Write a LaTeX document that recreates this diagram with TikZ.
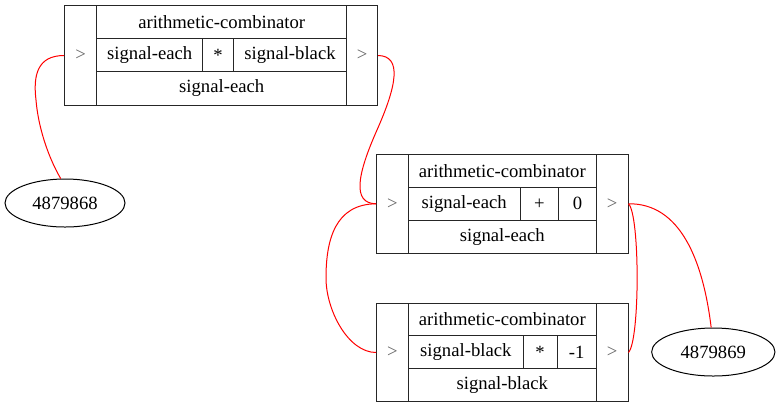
\documentclass[tikz,border=0pt]{standalone}
\usepackage{fontspec}
\setmainfont{Liberation Serif}
\usetikzlibrary{fit,shapes.geometric}
\tikzset{
  cell/.style={draw=black!85,line width=0.75pt,rectangle,inner sep=0pt,label=center:{#1}},
  port/.style={draw=black!85,line width=0.75pt,rectangle,inner sep=0pt,
    label={[text=black!60]center:>}},
  num/.style={draw,ellipse,line width=0.75pt,inner sep=0pt},
  wire/.style={red,line width=0.75pt}
}

\begin{document}
\begin{tikzpicture}[x=0.75pt,y=-0.75pt,font=\rmfamily\fontsize{14pt}{16pt}\selectfont]
  \useasboundingbox (0,0) rectangle (777,408);
  % first combinator
  \node[port,fit={(64.7,5.7) (96.7,105.3)}] (a1in) {};
  \node[port,fit={(346.7,5.7) (377.7,105.3)}] (a1out) {};
  \node[cell=arithmetic-combinator,fit={(96.7,5.7) (346.7,38.3)}] (a1name) {};
  \node[cell=signal-each,fit={(96.7,38.3) (202.7,71.7)}] (a1left) {};
  \node[cell=*,fit={(202.7,38.3) (233.3,71.7)}] (a1op) {};
  \node[cell=signal-black,fit={(233.3,38.3) (346.7,71.7)}] (a1right) {};
  \node[cell=signal-each,fit={(96.7,71.7) (346.7,105.3)}] (a1res) {};
  % second combinator
  \node[port,fit={(376.7,154.3) (408.3,253.3)}] (a2in) {};
  \node[port,fit={(596.3,154.3) (628,253.3)}] (a2out) {};
  \node[cell=arithmetic-combinator,fit={(408.3,154.3) (596.3,187.3)}] (a2name) {};
  \node[cell=signal-each,fit={(408.3,187.3) (520,220.3)}] (a2left) {};
  \node[cell=+,fit={(520,187.3) (558.7,220.3)}] (a2op) {};
  \node[cell=0,fit={(558.7,187.3) (596.3,220.3)}] (a2right) {};
  \node[cell=signal-each,fit={(408.3,220.3) (596.3,253.3)}] (a2res) {};
  % third combinator
  \node[port,fit={(376.7,303.3) (408.3,401.7)}] (a3in) {};
  \node[port,fit={(596.3,303.3) (628,401.7)}] (a3out) {};
  \node[cell=arithmetic-combinator,fit={(408.3,303.3) (596.3,335.7)}] (a3name) {};
  \node[cell=signal-black,fit={(408.3,335.7) (523.3,368.7)}] (a3left) {};
  \node[cell=*,fit={(523.3,335.7) (557,368.7)}] (a3op) {};
  \node[cell=-1,fit={(557,335.7) (596.3,368.7)}] (a3right) {};
  \node[cell=signal-black,fit={(408.3,368.7) (596.3,401.7)}] (a3res) {};
  % entities
  \node[num,minimum width=90pt,minimum height=36pt] (n1) at (65,203) {4879868};
  \node[num,minimum width=92.5pt,minimum height=36pt] (n2) at (713.3,352) {4879869};
  % wires
  \draw[wire] (a1in.west) .. controls +(-26.7,0) and (33,75) .. (36,100)
    .. controls (38,125) and (47,155) .. (n1.100);
  \draw[wire] (a1out.east) .. controls (402,56) and (397,85) .. (377,130)
    .. controls (357,175) and (352,203.5) .. (a2in.west);
  \draw[wire] (a2in.west) .. controls (335,204) and (326,240) .. (326,278)
    .. controls (326,310) and (348,352.5) .. (a3in.west);
  \draw[wire] (a2out.east) .. controls (640,215) and (640,340) .. (a3out.east);
  \draw[wire] (a2out.east) .. controls (680,203) and (703,260) .. (n2.95);
\end{tikzpicture}
\end{document}
